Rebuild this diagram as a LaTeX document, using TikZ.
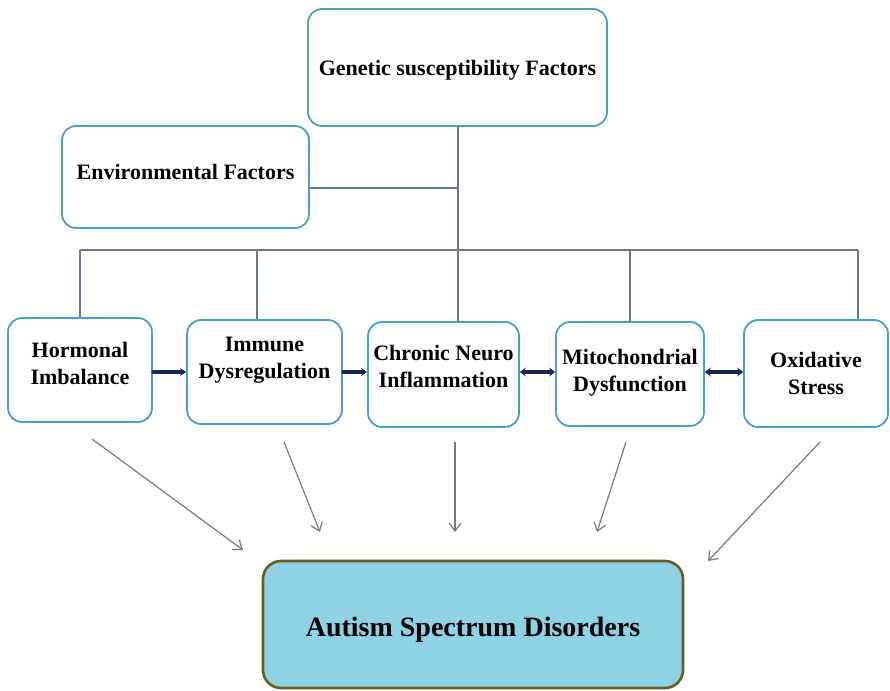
\documentclass[tikz,border=0pt]{standalone}
\usepackage{fontspec}
\setmainfont{Liberation Serif}
\usetikzlibrary{arrows.meta,calc}

\definecolor{boxblue}{RGB}{72,160,196}
\definecolor{wire}{RGB}{104,118,150}
\definecolor{linknavy}{RGB}{28,40,84}
\definecolor{arrowgray}{RGB}{120,120,126}
\definecolor{asdfill}{RGB}{142,210,230}
\definecolor{asdborder}{RGB}{104,92,30}

\tikzset{
  factor/.style={draw=boxblue, line width=1.8pt, rounded corners=14pt, fill=white, inner sep=0pt},
  lbl/.style={font=\bfseries\fontsize{22}{27}\selectfont, align=center, text=black, inner sep=0pt},
  wireline/.style={draw=wire, line width=1.4pt},
  link/.style={draw=linknavy, line width=3.2pt},
  onelink/.style={link, line cap=round, -{Stealth[length=6pt,width=8pt]}},
  twolink/.style={link, {Stealth[length=6pt,width=9pt]}-{Stealth[length=6pt,width=9pt]}},
  leadarrow/.style={draw=arrowgray, line width=1.2pt, -{Straight Barb[length=8pt,width=12pt]}},
}

\begin{document}
\begin{tikzpicture}[x=1pt,y=-1pt]
  \useasboundingbox (0,0) rectangle (890,690);

  % upstream factors
  \node[factor, minimum width=299pt, minimum height=117pt,
        label={[lbl,yshift=-2.5pt]center:Genetic susceptibility Factors}] (gen) at (457.5,67.5) {};
  \node[factor, minimum width=247pt, minimum height=102pt,
        label={[lbl,yshift=5pt]center:Environmental Factors}] (env) at (185.5,177) {};

  % mechanisms
  \node[factor, minimum width=144pt, minimum height=104pt,
        label={[lbl,yshift=6.5pt]center:Hormonal\\Imbalance}] (horm) at (80,370) {};
  \node[factor, minimum width=155pt, minimum height=104pt,
        label={[lbl,yshift=12pt]center:Immune\\Dysregulation}] (imm) at (264.5,372) {};
  \node[factor, minimum width=151pt, minimum height=105pt,
        label={[lbl,yshift=8pt]center:Chronic Neuro\\Inflammation}] (chron) at (443.5,374.5) {};
  \node[factor, minimum width=148pt, minimum height=104pt,
        label={[lbl,yshift=1.5pt]center:Mitochondrial\\Dysfunction}] (mito) at (630,374) {};
  \node[factor, minimum width=144pt, minimum height=107pt,
        label={[lbl,yshift=0pt]center:Oxidative\\Stress}] (oxi) at (816,373.5) {};

  % outcome
  \node[draw=asdborder, line width=2.6pt, fill=asdfill, rounded corners=18pt,
        minimum width=420pt, minimum height=127pt, inner sep=0pt,
        label={[lbl,font=\bfseries\fontsize{28}{32}\selectfont,yshift=-5.5pt]center:Autism Spectrum Disorders}] (asd) at (473,624.5) {};

  % distribution bus
  \coordinate (busL) at (80,250);
  \coordinate (busR) at (858,250);
  \coordinate (d2) at (257,250);
  \coordinate (d3) at (458,250);
  \coordinate (d4) at (630,250);
  \coordinate (envj) at ($(env.east)+(0,11)$);

  \draw[wireline] (gen.south -| d3) -- (d3);
  \draw[wireline] (envj) -- (envj -| d3);
  \draw[wireline] (busL) -- (busR);
  \draw[wireline] (busL) -- (busL |- horm.north);
  \draw[wireline] (d2) -- (d2 |- imm.north);
  \draw[wireline] (d3) -- (d3 |- chron.north);
  \draw[wireline] (d4) -- (d4 |- mito.north);
  \draw[wireline] (busR) -- (busR |- oxi.north);

  % links between neighbouring mechanisms
  \coordinate (lvl) at (0,372);
  \draw[onelink] (horm.east |- lvl) -- (imm.west |- lvl);
  \draw[onelink] (imm.east |- lvl) -- (chron.west |- lvl);
  \draw[twolink] (chron.east |- lvl) -- (mito.west |- lvl);
  \draw[twolink] (mito.east |- lvl) -- (oxi.west |- lvl);

  % contributions to the outcome
  \coordinate (s1) at (92,439);
  \coordinate (s2) at (284,442);
  \coordinate (s3) at (455,442);
  \coordinate (s4) at (626,442);
  \coordinate (s5) at (820,442);
  \coordinate (e1) at (243,550);
  \coordinate (e2) at (320,532);
  \coordinate (e3) at (455,532);
  \coordinate (e4) at (597,532);
  \coordinate (e5) at (708,561);
  \foreach \i in {1,...,5} \draw[leadarrow] (s\i) -- (e\i);
\end{tikzpicture}
\end{document}
